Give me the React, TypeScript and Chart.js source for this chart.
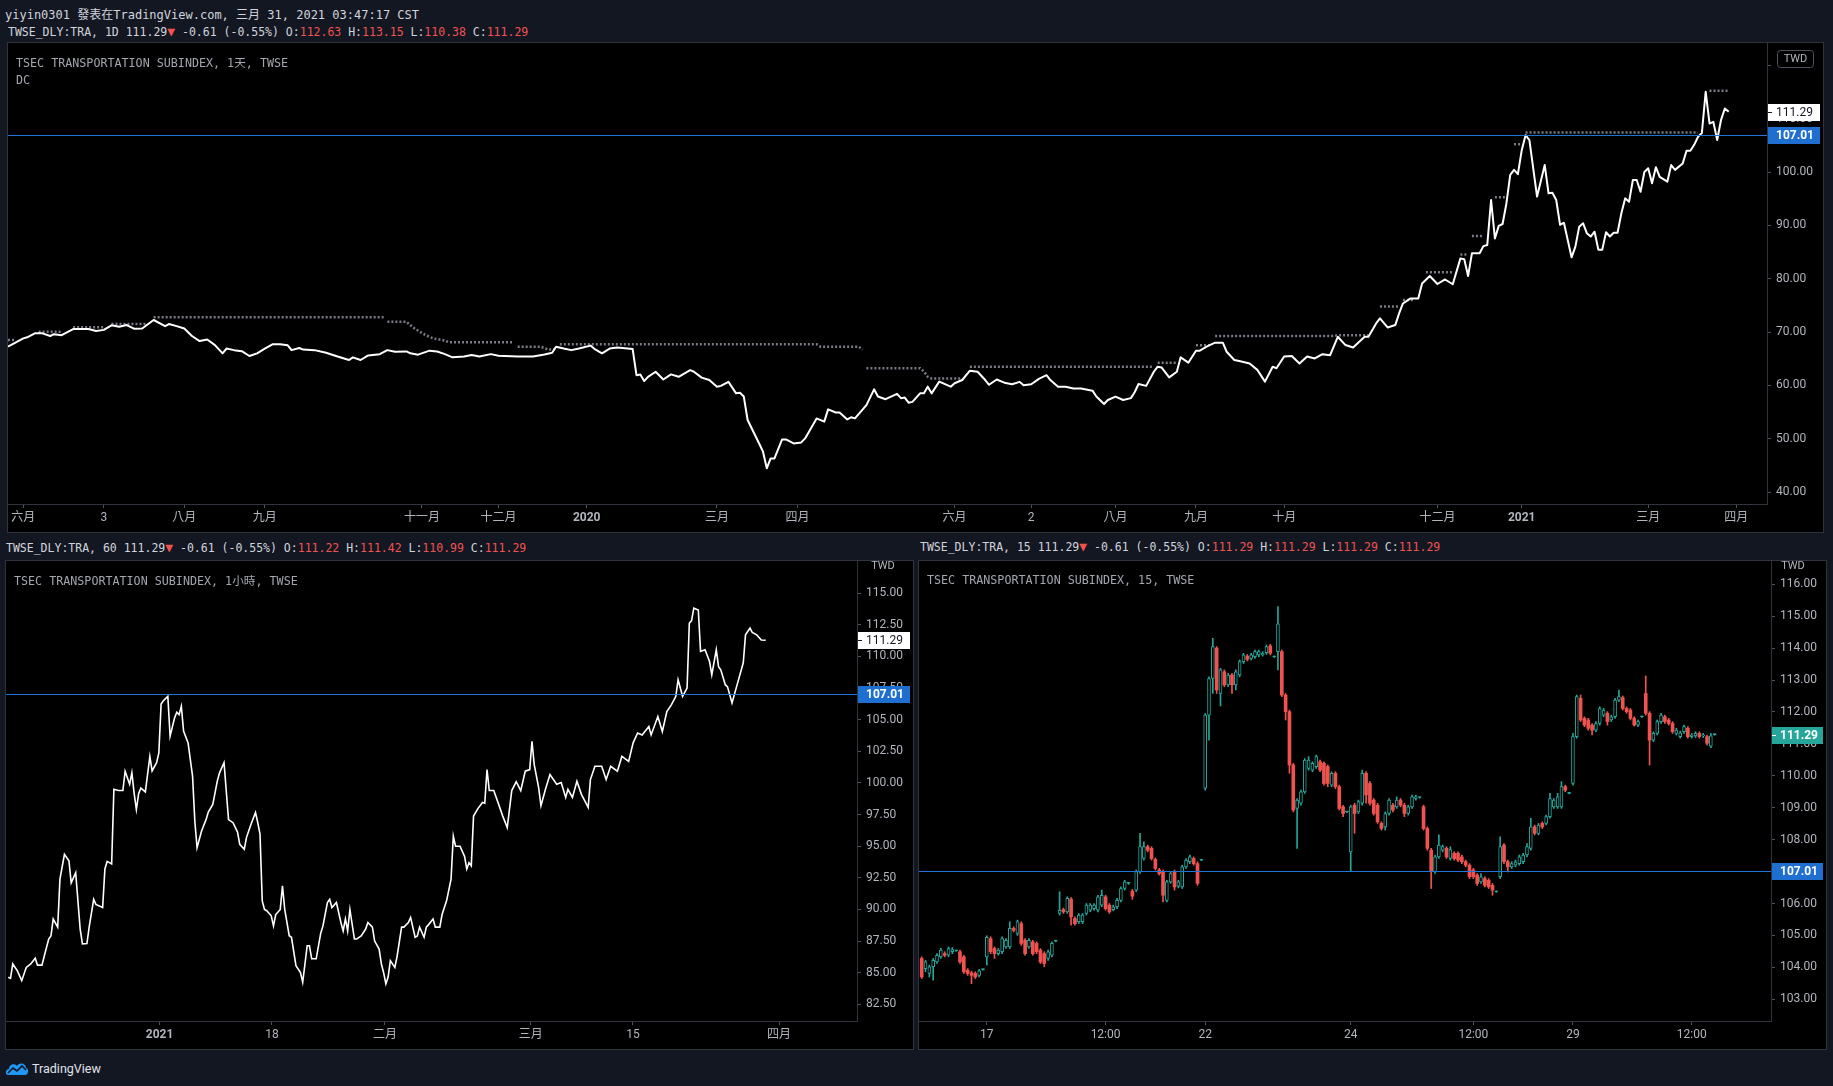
import React, { useEffect, useRef } from 'react';
import { Chart, registerables } from 'chart.js';

Chart.register(...registerables);

// ---------------- style constants ----------------
const PAGE_BG = '#131722';
const FRAME = '#30343f';
const TICK = '#4f535e';
const AXIS_TEXT = '#b2b5be';
const AXIS_FONT = 'Roboto, "Noto Sans CJK TC", sans-serif';
const MONO = '"DejaVu Sans Mono", "Noto Sans CJK TC", monospace';
const LEVEL_COLOR = '#2174d8';
const UP = '#26a69a';
const DOWN = '#ef5350';
const DC_COLOR = 'rgba(135,138,150,0.9)';

// ---------------- common values ----------------
const levelPrice = 107.01;
const lastPrice = 111.29;
const changeAbs = -0.61;
const changePct = -0.55;
const legendIntervals = ['1D', '60', '15'];
const legendOpen = [112.63, 111.22, 111.29];
const legendHigh = [113.15, 111.42, 111.29];
const legendLow = [110.38, 110.99, 111.29];
const legendClose = [111.29, 111.29, 111.29];
const paneTitles = [
  'TSEC TRANSPORTATION SUBINDEX, 1天, TWSE',
  'TSEC TRANSPORTATION SUBINDEX, 1小時, TWSE',
  'TSEC TRANSPORTATION SUBINDEX, 15, TWSE',
];

// ---------------- daily pane (trading-day index) ----------------
const dailyIdx = [
  0, 4, 5, 7, 9, 11, 12, 14, 17, 21,
  23, 25, 27, 29, 31, 33, 35, 38, 41, 42,
  44, 46, 48, 50, 52, 54, 56, 57, 59, 61,
  63, 65, 67, 69, 71, 73, 74, 76, 77, 80,
  83, 86, 89, 90, 92, 94, 97, 99, 101, 104,
  105, 107, 110, 112, 114, 116, 119, 121, 123, 126,
  128, 133, 137, 140, 142, 143, 145, 147, 149, 152,
  153, 155, 157, 159, 163, 164, 165, 166, 167, 169,
  171, 173, 175, 178, 179, 181, 183, 185, 186, 188,
  190, 191, 192, 193, 196, 197, 198, 199, 200, 202,
  203, 205, 207, 208, 211, 213, 214, 216, 217, 219,
  220, 221, 224, 226, 227, 229, 232, 233, 234, 235,
  236, 238, 239, 240, 241, 243, 246, 247, 249, 251,
  253, 255, 256, 258, 260, 262, 264, 265, 267, 269,
  271, 272, 274, 276, 278, 280, 283, 284, 286, 287,
  289, 291, 293, 294, 295, 297, 299, 300, 301, 303,
  305, 306, 308, 310, 311, 313, 315, 317, 318, 320,
  321, 324, 326, 328, 330, 331, 333, 335, 337, 339,
  341, 343, 345, 347, 349, 351, 354, 355, 357, 358,
  360, 362, 363, 364, 366, 368, 369, 371, 373, 375,
  377, 379, 380, 381, 382, 384, 385, 386, 387, 388,
  389, 390, 391, 392, 393, 394, 395, 396, 397, 399,
  401, 402, 403, 404, 405, 406, 408, 409, 410, 411,
  412, 413, 414, 415, 416, 417, 418, 419, 420, 421,
  422, 423, 424, 425, 426, 427, 428, 429, 430, 431,
  433, 434, 435, 437, 438, 439, 440, 441, 442, 443,
  444, 445, 446, 447, 448, 449,
];
const dailyClose = [
  67.25, 68.8, 69.0, 69.75, 69.75, 69.25, 69.6, 69.4, 70.55, 70.55,
  70.2, 70.4, 71.25, 71.0, 71.3, 70.6, 70.65, 72.25, 71.1, 71.5,
  71.1, 70.65, 69.25, 68.3, 68.6, 67.55, 66.0, 66.9, 66.6, 66.4,
  65.5, 66.0, 66.9, 67.7, 67.7, 67.5, 66.6, 67.0, 66.7, 66.6,
  66.1, 65.4, 64.75, 65.25, 64.75, 65.6, 65.85, 66.6, 66.3, 66.35,
  66.0, 65.75, 66.5, 66.35, 65.85, 65.25, 65.4, 65.7, 65.4, 65.85,
  65.55, 65.4, 65.4, 65.8, 66.1, 67.25, 66.9, 66.6, 66.9, 67.45,
  66.85, 66.0, 66.9, 67.1, 66.8, 61.9, 62.05, 60.8, 61.6, 62.55,
  61.1, 62.05, 61.6, 62.85, 62.55, 61.45, 61.0, 59.75, 59.9, 60.65,
  58.5, 58.6, 57.9, 53.5, 49.1, 47.6, 44.45, 46.3, 46.3, 49.85,
  49.85, 49.1, 49.3, 50.05, 53.8, 53.2, 55.5, 54.9, 54.9, 53.6,
  54.0, 53.8, 56.3, 59.25, 57.9, 57.4, 58.4, 57.6, 57.7, 56.75,
  56.9, 58.5, 58.5, 59.75, 58.5, 60.7, 59.75, 60.4, 61.0, 62.75,
  62.55, 61.0, 60.1, 61.1, 60.5, 60.2, 60.65, 60.0, 60.2, 61.2,
  61.9, 61.0, 59.75, 59.75, 59.4, 59.4, 59.0, 57.9, 56.5, 57.25,
  57.9, 57.25, 57.6, 58.7, 60.25, 59.9, 62.55, 63.5, 63.35, 61.5,
  62.55, 65.25, 64.25, 66.5, 66.5, 67.35, 68.0, 68.0, 66.3, 64.75,
  64.6, 64.1, 62.9, 60.7, 63.5, 63.2, 65.4, 65.5, 64.1, 65.4,
  65.05, 65.85, 65.65, 69.1, 67.55, 67.1, 69.1, 69.1, 71.6, 72.55,
  70.85, 71.3, 73.5, 75.35, 76.3, 76.3, 79.1, 80.5, 79.0, 79.85,
  78.95, 83.8, 83.65, 80.5, 84.75, 84.75, 86.1, 86.3, 94.75, 87.55,
  89.9, 90.25, 94.1, 99.45, 100.4, 99.6, 104.1, 106.9, 106.0, 95.4,
  101.3, 96.0, 96.1, 94.75, 90.1, 90.5, 84.0, 86.0, 89.75, 90.4,
  88.5, 87.9, 88.8, 85.4, 85.4, 88.7, 87.9, 88.6, 88.6, 92.25,
  95.06, 94.4, 98.5, 98.5, 96.3, 100.0, 100.7, 97.9, 100.9, 99.1,
  98.2, 101.3, 100.4, 101.6, 104.0, 104.0, 105.1, 106.6, 107.3, 115.05,
  109.1, 109.4, 106.0, 109.75, 111.9, 111.29,
];
// Donchian upper band (null = break between steps)
const dcIdx = [
  0, 2, 3, 8, 14, 15, 17, 25, 26, 27, 36, 37, 38, 98, 98.5,
  99, 104, 106, 109, 111, 114, 115, 132, 132.5,
  133, 139, 141, 143, 143.5,
  144, 211, 212, 222, 223, 223.5,
  224, 238, 239, 240, 241, 249, 250,
  251, 299, 299.5, 300, 305, 307, 310, 314, 314.5,
  315, 346, 347, 355, 356,
  358, 363, 363.5, 364, 367, 368, 370, 377, 378, 379, 381, 381.5,
  382, 385, 386, 388, 391, 392, 393, 395, 395.5, 396, 441, 442, 444, 449,
];
const dcValue = [
  68.5, 68.5, null, 70.05, 70.05, null, 70.9, 70.9, null, 71.5, 71.5, null, 72.75, 72.75, null,
  71.9, 71.9, 70.7, 69.4, 68.8, 68.4, 68.1, 68.1, null,
  67.25, 67.25, 66.7, 66.7, null,
  67.7, 67.7, 67.25, 67.25, 66.7, null,
  63.2, 63.2, 62.6, 61.6, 61.3, 61.3, null,
  63.5, 63.5, null, 64.25, 64.25, null, 67.5, 67.5, null,
  69.25, 69.25, 69.4, 69.4, null,
  74.8, 74.8, null, 76, 76, null, 81.2, 81.2, null, 84.55, 84.55, null,
  88, 88, null, 95.25, 95.25, null, 105.2, 105.2, null, 107.4, 107.4, null, 115.25, 115.25,
];
const dailyTickPos = [4, 25, 46, 67, 108, 128, 151, 185, 206, 247, 267, 289, 310, 333, 373, 395, 428, 451];
const dailyTickLabels = ['六月', '3', '八月', '九月', '十一月', '十二月', '2020', '三月', '四月', '六月', '2', '八月', '九月', '十月', '十二月', '2021', '三月', '四月'];
const dailyPriceTicks = [40, 50, 60, 70, 80, 90, 100, 110, 120];

// ---------------- hourly pane (bar index) ----------------
const hourlyIdx = [
  1, 2, 3, 5, 7, 9, 11, 13, 14, 16,
  17, 19, 20, 21, 23, 24, 26, 28, 29, 31,
  33, 34, 36, 37, 39, 40, 43, 44, 45, 47,
  48, 50, 52, 53, 55, 56, 57, 58, 59, 60,
  62, 64, 65, 67, 68, 69, 70, 72, 73, 75,
  76, 77, 78, 79, 81, 83, 84, 85, 87, 89,
  90, 92, 94, 95, 97, 99, 101, 103, 104, 106,
  107, 109, 111, 112, 113, 114, 115, 116, 118, 119,
  120, 122, 123, 124, 126, 127, 129, 131, 132, 134,
  135, 136, 138, 140, 141, 143, 144, 145, 147, 149,
  150, 151, 152, 153, 155, 156, 158, 160, 161, 163,
  164, 166, 167, 168, 169, 170, 171, 173, 174, 176,
  177, 179, 180, 182, 183, 184, 186, 187, 188, 190,
  191, 193, 194, 196, 198, 199, 200, 202, 204, 205,
  206, 207, 208, 210, 212, 213, 214, 215, 217, 219,
  221, 223, 225, 227, 229, 231, 233, 234, 235, 237,
  238, 240, 242, 245, 247, 249, 250, 252, 254, 256,
  259, 260, 262, 265, 267, 269, 272, 274, 277, 279,
  281, 283, 286, 287, 290, 292, 294, 296, 298, 299,
  301, 303, 304, 305, 306, 308, 309, 311, 313, 314,
  316, 317, 318, 320, 321, 323, 325, 328, 329, 331,
  332, 334, 336, 338,
];
const hourlyClose = [
  84.64, 84.55, 85.69, 85.16, 84.37, 85.42, 85.69, 86.14, 85.6, 85.6,
  86.3, 87.66, 87.9, 89.24, 88.6, 92.4, 94.36, 93.85, 92.1, 92.9,
  88.45, 87.27, 87.3, 88.6, 90.8, 90.4, 90.15, 93.2, 93.8, 93.6,
  99.5, 99.4, 99.4, 100.93, 99.9, 100.8, 99.2, 97.9, 99.15, 99.6,
  99.3, 102.1, 100.95, 101.6, 102.38, 106.25, 106.5, 106.85, 103.7, 105.15,
  105.6, 105.4, 106.06, 104.1, 103.17, 100.54, 96.99, 94.89, 96.2, 97.1,
  97.7, 98.3, 100.15, 100.8, 101.6, 97.1, 96.86, 96.12, 95.15, 94.76,
  95.7, 96.73, 97.66, 96.86, 95.96, 90.68, 90.0, 89.9, 89.5, 88.7,
  89.6, 90.0, 91.86, 90.0, 87.92, 87.8, 85.55, 85.0, 84.24, 87.13,
  87.13, 86.1, 86.1, 88.1, 88.7, 90.55, 90.8, 90.15, 90.55, 88.97,
  88.3, 89.25, 88.3, 90.0, 87.66, 87.66, 87.9, 88.45, 88.97, 88.6,
  87.5, 86.87, 85.7, 85.0, 84.11, 84.65, 85.95, 85.42, 86.3, 88.6,
  88.6, 88.97, 89.37, 87.8, 87.9, 88.6, 87.8, 88.6, 88.8, 89.24,
  88.6, 88.6, 89.6, 90.68, 92.4, 95.8, 95.0, 95.0, 94.2, 93.2,
  93.7, 93.45, 97.38, 97.99, 98.46, 98.4, 101.06, 99.4, 99.4, 98.4,
  97.38, 96.47, 99.4, 100.1, 99.4, 100.93, 101.06, 103.3, 101.45, 99.6,
  98.2, 99.5, 100.67, 99.9, 100.03, 98.86, 99.5, 98.86, 100.14, 99.1,
  98.07, 100.27, 101.32, 101.32, 100.27, 101.32, 100.93, 102.1, 101.7, 103.17,
  103.95, 103.8, 104.46, 103.8, 105.25, 104.07, 105.64, 106.17, 106.85, 108.16,
  106.85, 107.5, 112.63, 112.84, 113.82, 113.68, 110.4, 110.53, 109.6, 108.55,
  110.53, 109.2, 108.95, 107.77, 107.6, 106.33, 107.6, 109.5, 111.71, 112.24,
  111.9, 111.71, 111.3, 111.29,
];
const hourlyTickPos = [68.3, 118.3, 168.6, 233.5, 278.9, 343.9];
const hourlyTickLabels = ['2021', '18', '二月', '三月', '15', '四月'];
const hourlyPriceTicks = [82.5, 85, 87.5, 90, 92.5, 95, 97.5, 100, 102.5, 105, 107.5, 110, 112.5, 115];

// ---------------- 15-minute pane (bar index = position in arrays) ----------------
const candleOpen = [
  104.28, 103.96, 103.81, 104.02, 104.17, 104.33, 104.43, 104.38, 104.49, 104.52, 104.49, 104.33, 103.91, 103.83, 103.81, 103.75, 103.93,
  104.33, 104.90, 104.59, 104.43, 104.49, 104.64, 104.64, 105.22, 105.06, 105.37, 104.85, 104.64, 104.80, 104.75, 104.54, 104.43, 104.28, 104.38, 104.82,
  105.69, 105.81, 105.74, 106.14, 105.53, 105.43, 105.43, 105.69, 105.79, 105.84, 105.79, 105.95, 106.21, 105.95, 105.81, 105.90, 106.10, 106.47, 106.63, 106.39, 106.42,
  107.00, 107.41, 107.78, 107.73, 107.38, 107.05, 107.00, 106.10, 106.68, 107.00, 106.54, 106.52, 107.15, 107.31, 107.41, 107.25, 107.36,
  109.61, 111.90, 113.05, 114.00, 112.58, 113.26, 112.85, 113.16, 112.85, 113.16, 113.58, 113.75, 113.68, 113.73, 113.79, 113.79, 113.86, 114.07, 113.73,
  113.89, 113.89, 112.53, 112.01, 110.34, 108.98, 109.14, 109.50, 110.23, 110.18, 110.29, 110.44, 110.39, 110.29, 109.71, 110.08, 109.66, 109.03, 108.87, 107.62,
  109.08, 108.87, 109.14, 110.08, 109.76, 109.24, 109.08, 108.51, 108.40, 108.82, 109.08, 109.03, 109.24, 109.08, 108.82, 109.03, 109.29, 109.32,
  109.03, 108.35, 107.67, 107.00, 107.46, 107.67, 107.73, 107.41, 107.57, 107.57, 107.46, 107.31, 107.20, 107.05, 106.89, 106.68, 106.78, 106.73, 106.57, 106.37,
  106.84, 107.83, 107.31, 107.15, 107.20, 107.25, 107.31, 107.52, 107.73, 108.40, 108.20, 108.51, 108.51, 108.72, 109.03, 109.03, 109.03, 109.66, 109.45,
  109.76, 111.23, 112.43, 111.80, 111.75, 111.59, 111.43, 111.64, 111.90, 111.96, 111.75, 111.85, 112.37, 112.45, 112.11, 112.06, 111.80, 111.59, 111.85, 112.58,
  111.96, 111.12, 111.33, 111.70, 111.85, 111.75, 111.64, 111.33, 111.23, 111.38, 111.49, 111.23, 111.25, 111.33, 111.25, 111.23, 110.93, 111.29,
];
const candleHigh = [
  104.33, 104.22, 104.07, 104.28, 104.43, 104.60, 104.49, 104.64, 104.62, 104.54, 104.54, 104.38, 103.96, 103.88, 103.86, 103.94, 103.95,
  104.99, 104.96, 104.64, 104.59, 104.96, 104.90, 105.43, 105.27, 105.48, 105.43, 104.90, 104.90, 104.85, 104.80, 104.59, 104.49, 104.54, 104.80, 104.84,
  106.37, 105.86, 106.21, 106.19, 105.58, 105.69, 105.69, 106.00, 106.00, 106.00, 106.26, 106.42, 106.26, 106.00, 105.95, 106.16, 106.52, 106.73, 106.66, 106.44, 107.05,
  108.20, 107.93, 107.83, 107.78, 107.43, 107.10, 107.05, 106.73, 107.00, 107.05, 106.73, 107.20, 107.41, 107.52, 107.46, 107.31, 107.38,
  111.95, 113.10, 114.31, 114.05, 113.37, 113.32, 113.21, 113.21, 113.32, 113.63, 113.84, 113.80, 113.84, 113.94, 113.94, 113.89, 114.10, 114.12, 113.75,
  115.30, 113.94, 112.58, 112.06, 110.39, 109.29, 109.55, 110.54, 110.60, 110.44, 110.65, 110.49, 110.44, 110.34, 110.13, 110.13, 109.71, 109.08, 108.89, 109.08,
  109.14, 109.24, 110.18, 110.13, 109.82, 109.29, 109.14, 108.56, 108.87, 109.29, 109.14, 109.34, 109.29, 109.14, 109.08, 109.40, 109.40, 109.34,
  109.08, 108.40, 107.73, 107.52, 108.15, 107.83, 107.78, 107.78, 107.62, 107.62, 107.52, 107.36, 107.25, 107.10, 106.94, 106.94, 106.84, 106.78, 106.63, 106.39,
  108.09, 107.88, 107.36, 107.31, 107.36, 107.52, 107.57, 107.88, 108.67, 108.46, 108.51, 108.56, 108.77, 109.45, 109.29, 109.45, 109.82, 109.71, 109.47,
  111.33, 112.53, 112.53, 111.85, 111.80, 111.64, 111.70, 112.16, 112.11, 112.01, 111.90, 112.43, 112.69, 112.50, 112.16, 112.11, 111.85, 111.75, 111.87, 113.13,
  112.01, 111.38, 111.75, 111.96, 111.90, 111.80, 111.70, 111.49, 111.40, 111.59, 111.54, 111.33, 111.38, 111.38, 111.33, 111.28, 111.33, 111.31,
];
const candleLow = [
  103.65, 103.86, 103.70, 103.60, 104.12, 104.28, 104.33, 104.33, 104.43, 104.50, 104.12, 103.81, 103.75, 103.49, 103.65, 103.70, 103.91,
  104.07, 104.43, 104.28, 104.38, 104.43, 104.59, 104.59, 105.11, 105.00, 104.69, 104.38, 104.59, 104.38, 104.43, 104.12, 104.02, 104.22, 104.33, 104.80,
  105.64, 105.69, 105.69, 105.32, 105.32, 105.37, 105.37, 105.64, 105.74, 105.79, 105.74, 105.90, 105.79, 105.69, 105.77, 105.84, 106.05, 106.42, 106.60, 106.13, 106.37,
  106.94, 107.36, 107.62, 107.36, 107.05, 106.89, 106.05, 106.05, 106.63, 106.42, 106.49, 106.47, 107.10, 107.25, 107.20, 106.57, 107.34,
  109.55, 111.12, 112.58, 112.58, 112.19, 112.79, 112.79, 112.58, 112.69, 113.10, 113.52, 113.60, 113.63, 113.68, 113.73, 113.75, 113.80, 113.79, 113.71,
  113.32, 112.48, 111.75, 110.08, 108.87, 107.73, 109.08, 109.45, 110.18, 110.13, 110.23, 110.13, 109.71, 109.66, 109.66, 109.60, 108.93, 108.72, 108.85, 107.00,
  108.20, 108.82, 109.08, 109.14, 109.08, 108.77, 108.51, 108.30, 108.30, 108.77, 108.87, 108.98, 109.03, 108.72, 108.77, 108.98, 109.24, 109.30,
  108.30, 107.67, 106.47, 106.94, 107.41, 107.62, 107.41, 107.36, 107.36, 107.31, 107.25, 107.15, 106.78, 106.78, 106.57, 106.63, 106.52, 106.47, 106.26, 106.35,
  106.78, 107.25, 106.99, 107.10, 107.15, 107.20, 107.25, 107.46, 107.67, 108.15, 108.15, 108.35, 108.46, 108.67, 108.98, 108.98, 108.98, 109.50, 109.43,
  109.71, 111.18, 111.70, 111.54, 111.43, 111.28, 111.38, 111.59, 111.85, 111.59, 111.70, 111.80, 112.32, 112.06, 111.96, 111.75, 111.56, 111.54, 111.83, 111.90,
  110.34, 111.07, 111.28, 111.64, 111.64, 111.59, 111.33, 111.28, 111.18, 111.33, 111.18, 111.18, 111.20, 111.18, 111.20, 110.96, 110.88, 111.27,
];
const candleClose = [
  103.70, 104.17, 104.02, 104.22, 104.38, 104.54, 104.38, 104.59, 104.56, 104.52, 104.17, 103.86, 103.81, 103.75, 103.70, 103.89, 103.93,
  104.94, 104.49, 104.43, 104.54, 104.90, 104.85, 105.22, 105.16, 105.43, 104.75, 104.43, 104.85, 104.43, 104.49, 104.17, 104.12, 104.49, 104.75, 104.82,
  105.79, 105.74, 106.16, 105.58, 105.37, 105.64, 105.64, 105.95, 105.95, 105.95, 106.21, 106.26, 105.84, 105.74, 105.90, 106.10, 106.47, 106.68, 106.63, 106.23, 107.00,
  107.78, 107.78, 107.67, 107.41, 107.10, 106.94, 106.26, 106.68, 106.94, 106.52, 106.68, 107.15, 107.36, 107.46, 107.25, 106.63, 107.36,
  111.90, 113.05, 114.05, 112.69, 113.32, 112.85, 113.16, 112.85, 113.26, 113.58, 113.79, 113.65, 113.79, 113.89, 113.89, 113.84, 114.05, 113.84, 113.73,
  114.76, 112.53, 112.01, 110.34, 108.93, 109.24, 109.50, 110.49, 110.49, 110.39, 110.60, 110.18, 109.76, 109.76, 110.08, 109.66, 108.98, 108.82, 108.87, 109.03,
  108.82, 109.19, 110.08, 109.40, 109.14, 108.82, 108.56, 108.35, 108.82, 109.24, 108.93, 109.24, 109.08, 108.82, 109.03, 109.34, 109.34, 109.32,
  108.35, 107.73, 107.00, 107.46, 107.83, 107.78, 107.46, 107.69, 107.41, 107.36, 107.31, 107.20, 106.84, 106.84, 106.63, 106.84, 106.57, 106.52, 106.42, 106.37,
  107.78, 107.31, 107.15, 107.25, 107.31, 107.46, 107.52, 107.78, 108.40, 108.20, 108.46, 108.40, 108.72, 109.29, 109.24, 109.34, 109.66, 109.55, 109.45,
  111.23, 112.48, 111.75, 111.59, 111.49, 111.43, 111.64, 112.11, 112.06, 111.70, 111.85, 112.37, 112.48, 112.11, 112.01, 111.80, 111.59, 111.70, 111.85, 111.96,
  111.12, 111.33, 111.70, 111.90, 111.70, 111.64, 111.38, 111.43, 111.35, 111.54, 111.23, 111.28, 111.33, 111.23, 111.28, 111.02, 111.25, 111.29,
];
const candleTickPos = [17, 48, 74, 112, 144, 170, 201];
const candleTickLabels = ['17', '12:00', '22', '24', '12:00', '29', '12:00'];
const candlePriceTicks = [103, 104, 105, 106, 107, 108, 109, 110, 111, 112, 113, 114, 115, 116];

// ---------------- helpers ----------------
function timeAxis(min: number, max: number, pos: number[], labels: string[]) {
  return {
    type: 'linear',
    min,
    max,
    bounds: 'data',
    offset: false,
    afterBuildTicks: (s: any) => {
      s.ticks = pos.map((v) => ({ value: v }));
    },
    afterFit: (s: any) => {
      s.height = 28;
      s.paddingLeft = 0;
      s.paddingRight = 0;
    },
    grid: {
      display: true,
      drawOnChartArea: false,
      drawTicks: true,
      tickLength: 4,
      tickColor: TICK,
      color: TICK,
      offset: false,
    },
    border: { display: true, color: FRAME },
    ticks: {
      autoSkip: false,
      maxRotation: 0,
      minRotation: 0,
      padding: 3,
      color: AXIS_TEXT,
      font: (c: any) => ({
        family: AXIS_FONT,
        size: 12,
        weight: /^20\d\d$/.test(labels[c.index] || '') ? 'bold' : 'normal',
      }),
      callback: (_v: any, i: number) => labels[i],
    },
  };
}

function priceAxis(min: number, max: number, ticks: number[], width: number, hidden: number[]) {
  return {
    type: 'linear',
    position: 'right',
    min,
    max,
    bounds: 'data',
    afterBuildTicks: (s: any) => {
      s.ticks = ticks.map((v) => ({ value: v }));
    },
    afterFit: (s: any) => {
      s.width = width;
      s.paddingTop = 0;
      s.paddingBottom = 0;
    },
    grid: {
      display: true,
      drawOnChartArea: false,
      drawTicks: true,
      tickLength: 4,
      tickColor: TICK,
      color: TICK,
    },
    border: { display: true, color: FRAME },
    ticks: {
      autoSkip: false,
      padding: 5,
      color: AXIS_TEXT,
      font: { family: AXIS_FONT, size: 12 },
      callback: (v: any) => (hidden.includes(Number(v)) ? '' : Number(v).toFixed(2)),
    },
  };
}

type Tag = { value: number; bg: string; fg: string; bold?: boolean; tick?: string };

function paneDeco(tags: Tag[], tagWidth: number, twd: { dx: number; y: number; box: boolean }) {
  return {
    id: 'paneDeco',
    beforeDraw(chart: any) {
      const { ctx, width, height } = chart;
      ctx.save();
      ctx.fillStyle = '#000000';
      ctx.fillRect(0, 0, width, height);
      ctx.restore();
    },
    afterDatasetsDraw(chart: any) {
      const { ctx, chartArea: a, scales } = chart;
      const y = Math.round(scales.y.getPixelForValue(levelPrice)) + 0.5;
      ctx.save();
      ctx.beginPath();
      ctx.rect(a.left, a.top, a.right - a.left, a.bottom - a.top);
      ctx.clip();
      ctx.strokeStyle = LEVEL_COLOR;
      ctx.lineWidth = 1.2;
      ctx.beginPath();
      ctx.moveTo(a.left, y);
      ctx.lineTo(a.right, y);
      ctx.stroke();
      ctx.restore();
    },
    afterDraw(chart: any) {
      const { ctx, chartArea: a, scales, width, height } = chart;
      ctx.save();
      // currency marker
      ctx.font = `11px ${AXIS_FONT}`;
      ctx.textAlign = 'center';
      ctx.textBaseline = 'middle';
      if (twd.box) {
        const bx = a.right + twd.dx + 0.5;
        const by = twd.y + 0.5;
        ctx.fillStyle = '#000000';
        ctx.strokeStyle = '#50535e';
        ctx.lineWidth = 1;
        ctx.beginPath();
        if (ctx.roundRect) ctx.roundRect(bx, by, 36, 17, 3);
        else ctx.rect(bx, by, 36, 17);
        ctx.fill();
        ctx.stroke();
        ctx.fillStyle = AXIS_TEXT;
        ctx.fillText('TWD', bx + 18, by + 9);
      } else {
        ctx.fillStyle = AXIS_TEXT;
        ctx.fillText('TWD', a.right + twd.dx, twd.y);
      }
      // price tags
      tags.forEach((t) => {
        const y = Math.round(scales.y.getPixelForValue(t.value));
        ctx.fillStyle = t.bg;
        ctx.fillRect(a.right + 1, y - 8, tagWidth, 17);
        if (t.tick) {
          ctx.fillStyle = t.tick;
          ctx.fillRect(a.right + 1, y, 4, 1);
        }
        ctx.fillStyle = t.fg;
        ctx.font = `${t.bold ? 'bold ' : ''}12px ${AXIS_FONT}`;
        ctx.textAlign = 'left';
        ctx.textBaseline = 'middle';
        ctx.fillText(t.value.toFixed(2), a.right + 9, y + 1);
      });
      // outer frame
      ctx.strokeStyle = FRAME;
      ctx.lineWidth = 1;
      ctx.strokeRect(0.5, 0.5, width - 1, height - 1);
      ctx.restore();
    },
  };
}

function baseOptions(x: any, y: any) {
  return {
    responsive: false,
    maintainAspectRatio: false,
    animation: false,
    devicePixelRatio: 1,
    events: [],
    layout: { padding: { left: 1, top: 1, right: 1, bottom: 1 } },
    plugins: { legend: { display: false }, tooltip: { enabled: false } },
    scales: { x, y },
  };
}

const whiteTag: Tag = { value: lastPrice, bg: '#ffffff', fg: '#131722', tick: '#131722' };
const levelTag: Tag = { value: levelPrice, bg: '#1e6fcf', fg: '#ffffff', bold: true };

const makeDaily = () => ({
  type: 'line',
  data: {
    datasets: [
      {
        data: dailyIdx.map((x, i) => ({ x, y: dailyClose[i] })),
        borderColor: '#ffffff',
        borderWidth: 2,
        pointRadius: 0,
        tension: 0,
        borderJoinStyle: 'round',
        order: 0,
      },
      {
        data: dcIdx.map((x, i) => ({ x, y: dcValue[i] })),
        borderColor: DC_COLOR,
        borderWidth: 2.5,
        borderDash: [2, 2],
        pointRadius: 0,
        spanGaps: false,
        tension: 0,
        order: 1,
      },
    ],
  },
  options: baseOptions(
    timeAxis(0, 459, dailyTickPos, dailyTickLabels),
    priceAxis(37.75, 124.19, dailyPriceTicks, 56, [120])
  ),
  plugins: [paneDeco([whiteTag, levelTag], 52, { dx: 10, y: 8, box: true })],
});

const makeHourly = () => ({
  type: 'line',
  data: {
    datasets: [
      {
        data: hourlyIdx.map((x, i) => ({ x, y: hourlyClose[i] })),
        borderColor: '#ffffff',
        borderWidth: 1.6,
        pointRadius: 0,
        tension: 0,
      },
    ],
  },
  options: baseOptions(
    timeAxis(0, 378.6, hourlyTickPos, hourlyTickLabels),
    priceAxis(81.18, 117.55, hourlyPriceTicks, 56, [])
  ),
  plugins: [paneDeco([whiteTag, levelTag], 52, { dx: 26, y: 6, box: false })],
});

const isUp = (i: number) => candleClose[i] >= candleOpen[i];

const makeCandles = () => ({
  type: 'bar',
  data: {
    datasets: [
      {
        data: candleOpen.map((o, i) => ({ x: i, y: [o, candleClose[i]] })),
        backgroundColor: (c: any) => (isUp(c.dataIndex) ? (candleClose[c.dataIndex] === candleOpen[c.dataIndex] ? UP : '#000000') : DOWN),
        borderColor: (c: any) => (isUp(c.dataIndex) ? UP : DOWN),
        borderWidth: (c: any) => (isUp(c.dataIndex) ? 1 : 0),
        borderSkipped: false,
        barThickness: 3,
        minBarLength: 1,
        grouped: false,
        order: 0,
      },
      {
        data: candleLow.map((l, i) => ({ x: i, y: [l, candleHigh[i]] })),
        backgroundColor: (c: any) => (isUp(c.dataIndex) ? UP : DOWN),
        borderWidth: 0,
        barThickness: 1,
        grouped: false,
        order: 1,
      },
    ],
  },
  options: baseOptions(
    timeAxis(-0.7, 221.7, candleTickPos, candleTickLabels),
    priceAxis(102.32, 116.73, candlePriceTicks, 55, [])
  ),
  plugins: [
    paneDeco(
      [{ value: lastPrice, bg: UP, fg: '#ffffff', bold: true, tick: '#ffffff' }, levelTag],
      51,
      { dx: 22, y: 6, box: false }
    ),
  ],
});

function ChartCanvas({ left, top, width, height, make }: any) {
  const ref = useRef<HTMLCanvasElement | null>(null);
  useEffect(() => {
    if (!ref.current) return;
    const chart = new Chart(ref.current, make());
    return () => chart.destroy();
  }, [make]);
  return (
    <canvas
      ref={ref}
      width={width}
      height={height}
      style={{ position: 'absolute', left, top, width, height, display: 'block' }}
    />
  );
}

function Legend({ left, top, i }: { left: number; top: number; i: number }) {
  const red = { color: DOWN };
  return (
    <div
      style={{
        position: 'absolute',
        left,
        top,
        font: `11.5px ${MONO}`,
        lineHeight: '16px',
        color: '#d1d4dc',
        whiteSpace: 'pre',
      }}
    >
      {`TWSE_DLY:TRA, ${legendIntervals[i]} ${lastPrice.toFixed(2)}`}
      <span style={{ ...red, fontSize: '13px' }}>▼</span>
      {` ${changeAbs.toFixed(2)} (${changePct.toFixed(2)}%) O:`}
      <span style={red}>{legendOpen[i].toFixed(2)}</span>
      {' H:'}
      <span style={red}>{legendHigh[i].toFixed(2)}</span>
      {' L:'}
      <span style={red}>{legendLow[i].toFixed(2)}</span>
      {' C:'}
      <span style={red}>{legendClose[i].toFixed(2)}</span>
    </div>
  );
}

function Label({ left, top, text, size = 11.7, color = '#a3a6af' }: any) {
  return (
    <div
      style={{
        position: 'absolute',
        left,
        top,
        font: `${size}px ${MONO}`,
        lineHeight: '16px',
        color,
        whiteSpace: 'pre',
      }}
    >
      {text}
    </div>
  );
}

export default function App() {
  return (
    <div
      style={{
        position: 'absolute',
        left: 0,
        top: 0,
        width: 1833,
        height: 1086,
        background: PAGE_BG,
        overflow: 'hidden',
      }}
    >
      <Label left={5} top={7} size={12} color="#d1d4dc" text="yiyin0301 發表在TradingView.com, 三月 31, 2021 03:47:17 CST" />
      <Legend left={8} top={24} i={0} />

      <ChartCanvas left={7} top={42} width={1817} height={491} make={makeDaily} />
      <ChartCanvas left={5} top={560} width={909} height={490} make={makeHourly} />
      <ChartCanvas left={918} top={560} width={909} height={490} make={makeCandles} />

      <Label left={16} top={55} text={paneTitles[0]} />
      <Label left={16} top={72} text="DC" />

      <Legend left={6} top={540} i={1} />
      <Label left={14} top={573} text={paneTitles[1]} />

      <Legend left={920} top={539} i={2} />
      <Label left={927} top={572} text={paneTitles[2]} />

      <div style={{ position: 'absolute', left: 5, top: 1060, display: 'flex', alignItems: 'center' }}>
        <svg width="24" height="16" viewBox="0 0 24 16">
          <path d="M3 15 C0 15 0 9 4 9 C4 4 10 3 12 6 C14 2 21 3 21 8 C24 8 24 15 20 15 Z" fill="#2196f3" />
          <path d="M3 13 L8 8 L12 11 L17 6 L21 10" stroke={PAGE_BG} strokeWidth="1.6" fill="none" />
        </svg>
        <span style={{ marginLeft: 3, font: `12.5px Roboto, sans-serif`, color: '#e0e3eb' }}>TradingView</span>
      </div>
    </div>
  );
}
